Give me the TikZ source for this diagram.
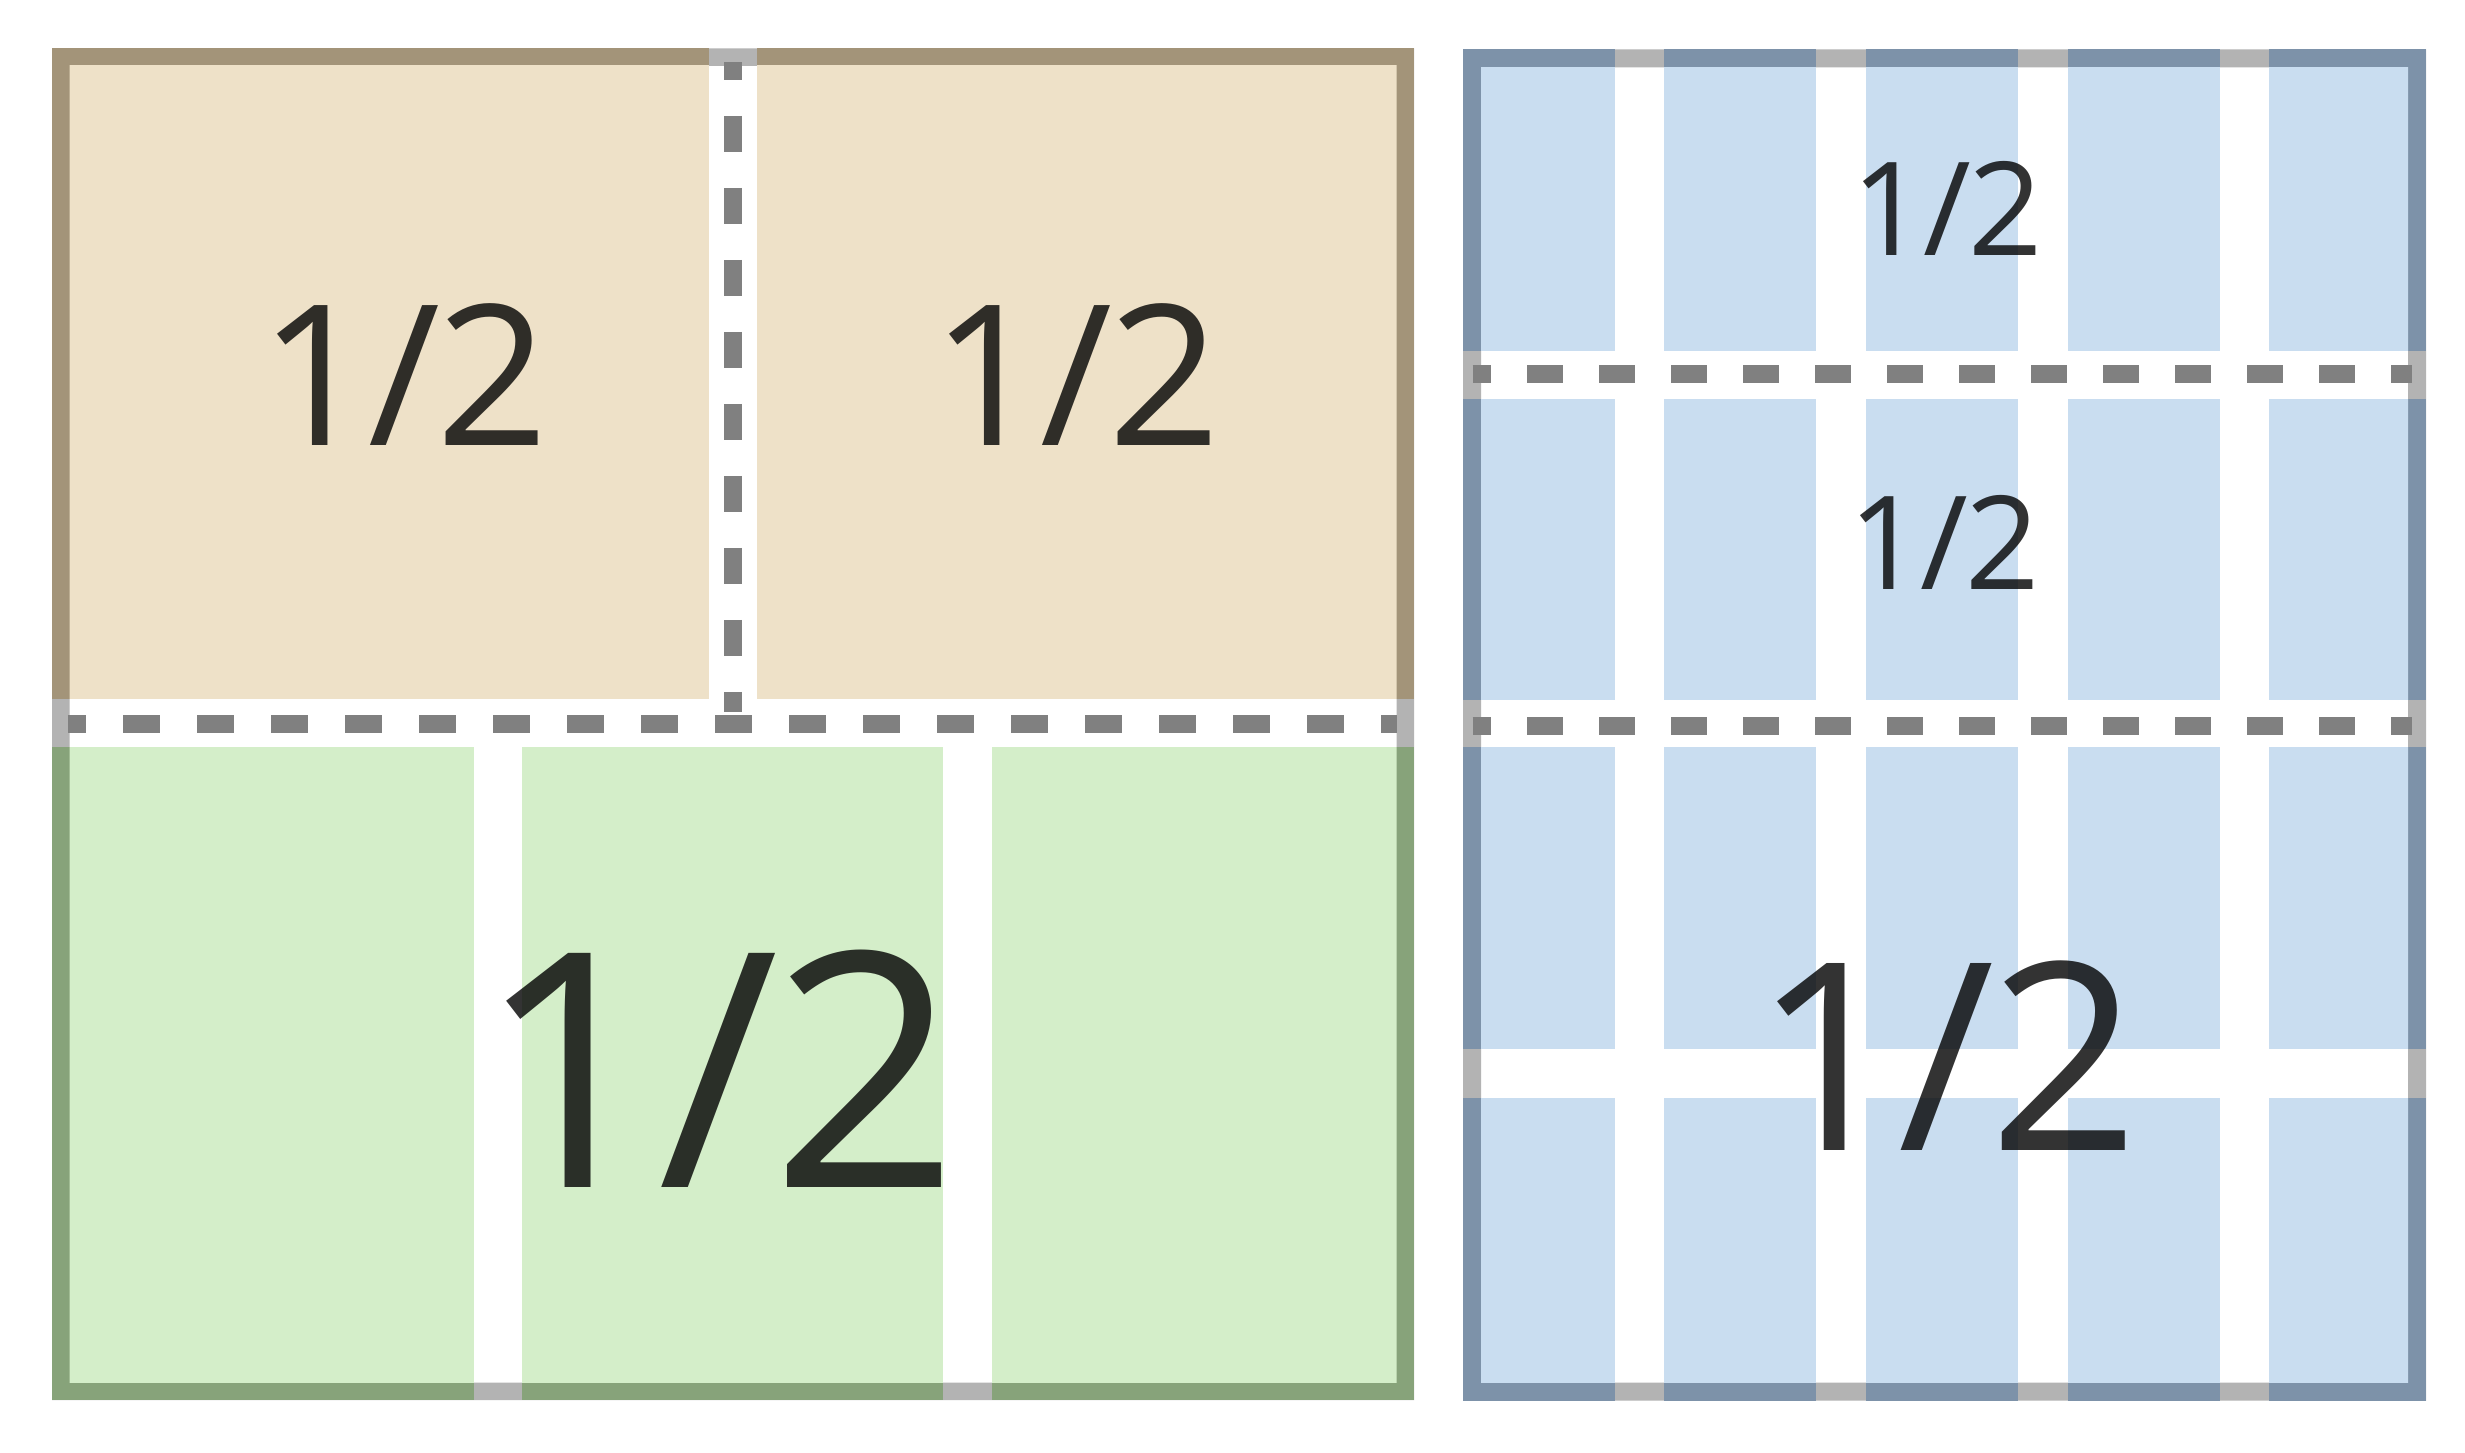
\documentclass[tikz,border=0pt]{standalone}
\usepackage{fontspec}
\setmainfont{Open Sans}[LetterSpace=-2]
\definecolor{tanfill}{HTML}{EEE1C8}
\definecolor{tanbord}{HTML}{A39479}
\definecolor{grnfill}{HTML}{D4EEC9}
\definecolor{grnbord}{HTML}{87A37A}
\definecolor{bluefill}{HTML}{C9DDF0}
\definecolor{bluebord}{HTML}{7D92A9}
\definecolor{gapgray}{HTML}{B3B3B3}
\definecolor{dashgray}{HTML}{808080}
\tikzset{
  dashline/.style={draw=dashgray, line width=18pt},
  frac/.style={inner sep=0pt, anchor=base, text=black, text opacity=0.8}
}
\begin{document}
\begin{tikzpicture}[x=1pt,y=-1pt]
\useasboundingbox (0,0) rectangle (2465,1453);
\fill[white] (0,0) rectangle (2465,1453);
% ---------- left panel ----------
\fill[gapgray, even odd rule] (52,48.5) rectangle (1414,1400) (69.5,66) rectangle (1396.5,1382.5);
\fill[tanbord] (52,48.5) rectangle (708.7,699);
\fill[tanbord] (757,48.5) rectangle (1414,699);
\fill[grnbord] (52,747.4) rectangle (473.5,1400);
\fill[grnbord] (522,747.4) rectangle (943.3,1400);
\fill[grnbord] (992,747.4) rectangle (1414,1400);
\begin{scope}
  \clip (69.5,66) rectangle (1396.5,1382.5);
  \fill[tanfill] (52,48.5) rectangle (708.7,699);
  \fill[tanfill] (757,48.5) rectangle (1414,699);
  \fill[grnfill] (52,747.4) rectangle (473.5,1400);
  \fill[grnfill] (522,747.4) rectangle (943.3,1400);
  \fill[grnfill] (992,747.4) rectangle (1414,1400);
\end{scope}
\draw[dashline, dash pattern=on 35.8pt off 36.2pt, dash phase=18.4pt] (732.8,62.2) -- (732.8,711.5);
\draw[dashline, dash pattern=on 37pt off 37pt, dash phase=18.9pt] (67.9,724) -- (1397,724);
% ---------- right panel ----------
\fill[gapgray, even odd rule] (1463,49.5) rectangle (2426,1400.5) (1481,67.5) rectangle (2408,1382.5);
\foreach \xa/\xb in {1463/1615.4,1664.3/1816.4,1866/2018.2,2067.8/2220,2268.9/2426}
  \foreach \ya/\yb in {49.5/350.5,399/699.5,747.3/1049.4,1097.5/1400.5}
    \fill[bluebord] (\xa,\ya) rectangle (\xb,\yb);
\begin{scope}
  \clip (1481,67.5) rectangle (2408,1382.5);
  \foreach \xa/\xb in {1463/1615.4,1664.3/1816.4,1866/2018.2,2067.8/2220,2268.9/2426}
    \foreach \ya/\yb in {49.5/350.5,399/699.5,747.3/1049.4,1097.5/1400.5}
      \fill[bluefill] (\xa,\ya) rectangle (\xb,\yb);
\end{scope}
\draw[dashline, dash pattern=on 36pt off 36pt, dash phase=17.7pt] (1472.7,373.7) -- (2412.2,373.7);
\draw[dashline, dash pattern=on 36pt off 36pt, dash phase=17.7pt] (1472.7,726.4) -- (2412.2,726.4);
% ---------- labels ----------
\node[frac, font=\fontsize{196}{200}\selectfont] (t1) at (404,445) {1/2};
\node[frac, font=\fontsize{196}{200}\selectfont] (t2) at (1076,445) {1/2};
\node[frac, font=\fontsize{328}{330}\selectfont] (g1) at (718,1187) {1/2};
\node[frac, font=\fontsize{130}{135}\selectfont] (b1) at (1947,255) {1/2};
\node[frac, font=\fontsize{130}{135}\selectfont] (b2) at (1944,589) {1/2};
\node[frac, font=\fontsize{262}{265}\selectfont] (b3) at (1946,1150) {1/2};
\end{tikzpicture}
\end{document}
